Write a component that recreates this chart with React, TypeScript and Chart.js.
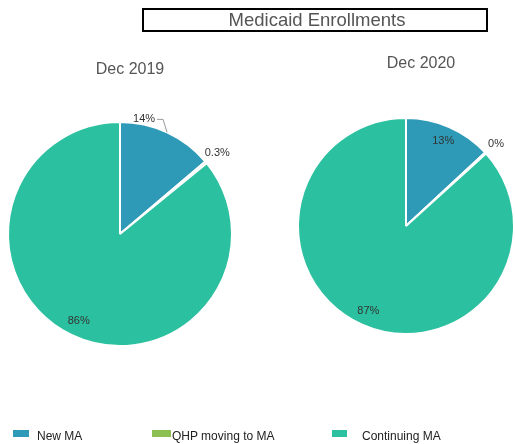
import React, { useEffect, useRef } from "react";
import { Chart, registerables } from "chart.js";

Chart.register(...registerables);

const categories = ["New MA", "QHP moving to MA", "Continuing MA"];
const colors = ["#2E9AB7", "#8CC152", "#2BC09F"];

const periods = ["Dec 2019", "Dec 2020"];
const values2019 = [13.8, 0.3, 85.9];
const values2020 = [13.1, 0.2, 86.7];
const labels2019 = ["14%", "0.3%", "86%"];
const labels2020 = ["13%", "0%", "87%"];

const modes2019 = ["leader", "out", "in"];
const modes2020 = ["in", "out", "in"];

const FONT = "'Liberation Sans', Arial, sans-serif";

const sliceLabelPlugin = {
  id: "sliceLabels",
  afterDatasetsDraw(chart: any, _args: any, opts: any) {
    const ctx = chart.ctx;
    const meta = chart.getDatasetMeta(0);
    const texts: string[] = opts.texts;
    const modes: string[] = opts.modes;
    ctx.save();
    ctx.font = `11px ${FONT}`;
    ctx.fillStyle = "#333";
    ctx.strokeStyle = "#999";
    ctx.lineWidth = 1;
    meta.data.forEach((arc: any, i: number) => {
      const p = arc.getProps(["x", "y", "startAngle", "endAngle", "outerRadius"], true);
      const mid = (p.startAngle + p.endAngle) / 2;
      const R = p.outerRadius;
      const mode = modes[i];
      if (mode === "in" || mode === "out") {
        const f = mode === "in" ? 0.86 : 1.13;
        const x = p.x + Math.cos(mid) * R * f;
        const y = p.y + Math.sin(mid) * R * f;
        ctx.textAlign = "center";
        ctx.textBaseline = "middle";
        ctx.fillText(texts[i], x, y);
      } else {
        const ex = p.x + Math.cos(mid) * R;
        const ey = p.y + Math.sin(mid) * R;
        ctx.beginPath();
        ctx.moveTo(ex, ey);
        ctx.lineTo(ex - 4, ey - 13);
        ctx.lineTo(ex - 10, ey - 13);
        ctx.stroke();
        ctx.textAlign = "right";
        ctx.textBaseline = "middle";
        ctx.fillText(texts[i], ex - 12, ey - 13);
      }
    });
    ctx.restore();
  },
};

function makePie(canvas: HTMLCanvasElement, values: number[], texts: string[], modes: string[], padding: any) {
  return new Chart(canvas, {
    type: "pie",
    data: {
      labels: categories,
      datasets: [
        {
          data: values,
          backgroundColor: colors,
          borderColor: "#ffffff",
          borderWidth: 2,
        },
      ],
    },
    options: {
      responsive: false,
      animation: false,
      events: [],
      layout: { padding },
      plugins: {
        legend: { display: false },
        title: { display: false },
        tooltip: { enabled: false },
        sliceLabels: { texts, modes },
      } as any,
    },
    plugins: [sliceLabelPlugin],
  });
}

export default function App() {
  const ref1 = useRef<HTMLCanvasElement>(null);
  const ref2 = useRef<HTMLCanvasElement>(null);

  useEffect(() => {
    const c1 = makePie(ref1.current!, values2019, labels2019, modes2019, { left: 7, top: 121, right: 282, bottom: 97 });
    const c2 = makePie(ref2.current!, values2020, labels2020, modes2020, { left: 297, top: 117, right: 0, bottom: 109 });
    return () => {
      c1.destroy();
      c2.destroy();
    };
  }, []);

  const canvasStyle: React.CSSProperties = { position: "absolute", left: 0, top: 0 };
  const legendX = [
    { sw: 13, w: 16, tx: 37 },
    { sw: 152, w: 19, tx: 172 },
    { sw: 332, w: 15, tx: 362 },
  ];

  return (
    <div style={{ position: "absolute", left: 0, top: 0, width: 515, height: 444, background: "#fff", fontFamily: FONT, overflow: "hidden" }}>
      <canvas ref={ref1} width={515} height={444} style={canvasStyle} />
      <canvas ref={ref2} width={515} height={444} style={canvasStyle} />
      <div
        style={{
          position: "absolute",
          left: 142,
          top: 8,
          width: 338,
          height: 20,
          border: "2px solid #000",
          color: "#555",
          fontSize: 18.5,
          lineHeight: "20px",
          textAlign: "center",
          paddingLeft: 4,
          boxSizing: "content-box",
        }}
      >
        Medicaid Enrollments
      </div>
      <div style={{ position: "absolute", left: 70, top: 59, width: 120, textAlign: "center", fontSize: 16, color: "#555", lineHeight: "20px" }}>
        {periods[0]}
      </div>
      <div style={{ position: "absolute", left: 361, top: 53, width: 120, textAlign: "center", fontSize: 16, color: "#555", lineHeight: "20px" }}>
        {periods[1]}
      </div>
      {categories.map((c, i) => (
        <React.Fragment key={c}>
          <div style={{ position: "absolute", left: legendX[i].sw, top: 430, width: legendX[i].w, height: 7, background: colors[i] }} />
          <div style={{ position: "absolute", left: legendX[i].tx, top: 429, fontSize: 12, lineHeight: "14px", color: "#222", whiteSpace: "nowrap" }}>
            {c}
          </div>
        </React.Fragment>
      ))}
    </div>
  );
}
